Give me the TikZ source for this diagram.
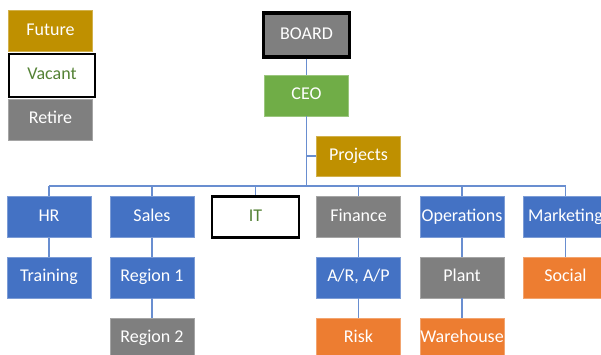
\documentclass[tikz,border=0pt]{standalone}
\usepackage{fontspec}
\setmainfont{Carlito}
\definecolor{chartblue}{HTML}{4472C4}
\definecolor{chartgreen}{HTML}{70AD47}
\definecolor{chartgold}{HTML}{BF9000}
\definecolor{chartgray}{HTML}{7F7F7F}
\definecolor{chartorange}{HTML}{ED7D31}
\definecolor{vacanttext}{HTML}{548235}

\tikzset{
  box/.style={minimum width=84pt, minimum height=41pt, inner sep=0pt,
              text height=12.5pt, text depth=4pt,
              text=white, font=\fontsize{18}{20}\selectfont},
  dept/.style={box, fill=chartblue, draw=chartblue!70!white, line width=0.6pt},
  future/.style={box, fill=chartgold, draw=chartgold!70!white, line width=0.6pt},
  retire/.style={box, fill=chartgray, draw=chartgray!70!white, line width=0.6pt},
  newpost/.style={box, fill=chartorange, draw=chartorange!70!white, line width=0.6pt},
  vacant/.style={box, fill=white, draw=black, line width=2.6pt, text=vacanttext},
  link/.style={draw=chartblue!80!white, line width=1.3pt}
}

\begin{document}
\begin{tikzpicture}[x=1pt, y=1pt]
  \useasboundingbox (0,0) rectangle (601,-354);

  % legend
  \node[future] (keyfuture) at (50.5,-31)  {Future};
  \node[vacant, minimum width=86pt, minimum height=43pt] (keyvacant) at (52,-75.5) {Vacant};
  \node[retire] (keyretire) at (50.5,-119.5) {Retire};

  % top of the chart
  \node[retire, draw=black, line width=3.4pt, minimum width=86pt, minimum height=44pt]
        (board) at (306.5,-35) {BOARD};
  \node[box, fill=chartgreen, draw=chartgreen!70!white, line width=0.6pt]
        (ceo) at (306.5,-95.5) {CEO};
  \node[future, minimum height=40pt] (projects) at (358.5,-156) {Projects};
  \coordinate (trunk) at (306.5,-186);

  % departments
  \node[dept]   (hr)   at (49,-217)    {HR};
  \node[dept]   (sales) at (152,-217)  {Sales};
  \node[vacant, minimum width=87pt] (it) at (255.5,-217) {IT};
  \node[retire] (fin)  at (358.5,-217) {Finance};
  \node[dept]   (ops)  at (462,-217)   {Operations};
  \node[dept]   (mkt)  at (565.5,-217) {Marketing};

  % second row
  \node[dept]    (training) at (49,-277.5)    {Training};
  \node[dept]    (region1)  at (152,-277.5)   {Region 1};
  \node[dept]    (arap)     at (358.5,-277.5) {A/R, A/P};
  \node[retire]  (plant)    at (462,-277.5)   {Plant};
  \node[newpost] (social)   at (565.5,-277.5) {Social};

  % third row
  \node[retire]  (region2)   at (152,-338.5)   {Region 2};
  \node[newpost] (risk)      at (358.5,-338.5) {Risk};
  \node[newpost] (warehouse) at (462,-338.5)   {Warehouse};

  % connectors
  \draw[link] (board) -- (ceo);
  \draw[link] (ceo) -- (trunk);
  \draw[link] (ceo |- projects) -- (projects);
  \draw[link] (hr |- trunk) -- (mkt |- trunk);
  \foreach \d in {hr, sales, it, fin, ops, mkt}
    \draw[link] (\d |- trunk) -- (\d);
  \draw[link] (hr) -- (training);
  \draw[link] (sales) -- (region1) -- (region2);
  \draw[link] (fin) -- (arap) -- (risk);
  \draw[link] (ops) -- (plant) -- (warehouse);
  \draw[link] (mkt) -- (social);
\end{tikzpicture}
\end{document}
